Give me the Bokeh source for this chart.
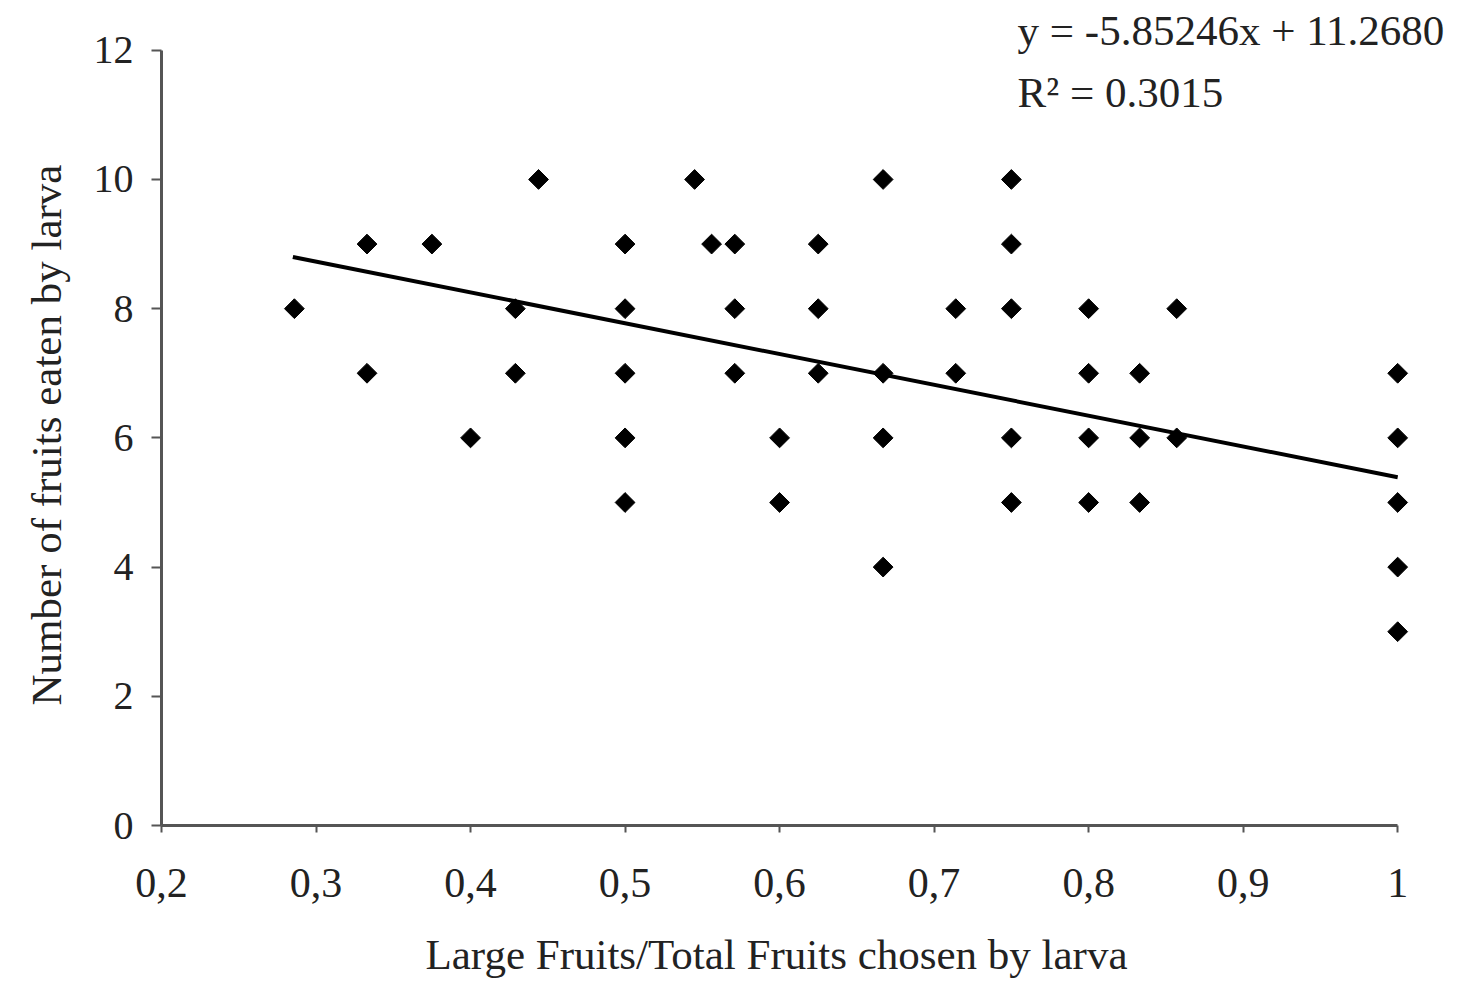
from bokeh.plotting import figure
from bokeh.models import Range1d, FixedTicker, CustomJSTickFormatter, Label, Title
from bokeh.embed import file_html
from bokeh.resources import INLINE
import math

# Data
ratio_large = [0.286, 0.333, 0.333, 0.375, 0.4, 0.429, 0.429, 0.444,
               0.5, 0.5, 0.5, 0.5, 0.5, 0.545, 0.556, 0.571, 0.571, 0.571,
               0.6, 0.6, 0.625, 0.625, 0.625, 0.667, 0.667, 0.667, 0.667,
               0.714, 0.714, 0.75, 0.75, 0.75, 0.75, 0.75,
               0.8, 0.8, 0.8, 0.8, 0.833, 0.833, 0.833, 0.857, 0.857,
               1.0, 1.0, 1.0, 1.0, 1.0]
fruits_eaten = [8, 9, 7, 9, 6, 8, 7, 10,
                9, 8, 7, 6, 5, 10, 9, 9, 8, 7,
                6, 5, 9, 8, 7, 10, 7, 6, 4,
                8, 7, 10, 9, 8, 6, 5,
                8, 7, 6, 5, 7, 6, 5, 8, 6,
                7, 6, 5, 4, 3]

trend_x = [0.285, 1.0]
trend_y = [8.80, 5.39]

x_ticks = [0.2, 0.3, 0.4, 0.5, 0.6, 0.7, 0.8, 0.9, 1.0]
y_ticks = [0, 2, 4, 6, 8, 10, 12]

equation_text = "y = -5.85246x + 11.2680"
r2_text = "R² = 0.3015"
x_title = "Large Fruits/Total Fruits chosen by larva"
y_title = "Number of fruits eaten by larva"

FONT = "Liberation Serif"

p = figure(output_backend="svg", toolbar_location=None,
           width=1463, height=977,
           frame_width=1298, frame_height=814,
           min_border_left=161, min_border_right=4,
           min_border_top=11, min_border_bottom=152,
           x_range=Range1d(0.2, 1.04), y_range=Range1d(0, 12.6),
           background_fill_color="white", border_fill_color="white")
p.outline_line_color = None
p.grid.visible = False

p.line(trend_x, trend_y, line_color="black", line_width=4)
p.scatter(ratio_large, fruits_eaten, marker="square", angle=math.pi / 4,
          size=14, fill_color="black", line_color="black")

for ax in (p.xaxis[0], p.yaxis[0]):
    ax.axis_line_color = "#555555"
    ax.axis_line_width = 3
    ax.major_tick_line_color = "#555555"
    ax.major_tick_line_width = 2
    ax.minor_tick_line_color = None
    ax.major_tick_in = 0
    ax.major_label_text_font = FONT
    ax.major_label_text_color = "#222222"

p.xaxis.major_label_text_font_size = "42px"
p.yaxis.major_label_text_font_size = "40px"
p.xaxis.bounds = (0.2, 1.0)
p.yaxis.bounds = (0, 12)
p.xaxis.ticker = FixedTicker(ticks=x_ticks)
p.yaxis.ticker = FixedTicker(ticks=y_ticks)
p.xaxis.formatter = CustomJSTickFormatter(
    code="var s = tick.toFixed(1).replace('.', ','); return s.endsWith(',0') ? s.slice(0, -2) : s;")
p.xaxis.major_tick_out = 7
p.xaxis.major_label_standoff = 36
p.yaxis.major_tick_out = 10
p.yaxis.major_label_standoff = 18

# Axis titles as side-panel titles, so they can be centred on the axis extents
p.add_layout(Title(text=x_title, align="left", offset=264, standoff=58,
                   text_font=FONT, text_font_size="43px",
                   text_font_style="normal", text_color="#222222"), "below")
p.add_layout(Title(text=y_title, align="left", offset=120, standoff=41,
                   text_font=FONT, text_font_size="43px",
                   text_font_style="normal", text_color="#222222"), "left")

p.add_layout(Label(x=0.754, y=12.31, text=equation_text, text_font=FONT,
                   text_font_size="43px", text_baseline="middle",
                   text_color="#222222"))
p.add_layout(Label(x=0.754, y=11.35, text=r2_text, text_font=FONT,
                   text_font_size="43px", text_baseline="middle",
                   text_color="#222222"))

open("out.html", "w").write(file_html(p, INLINE))
